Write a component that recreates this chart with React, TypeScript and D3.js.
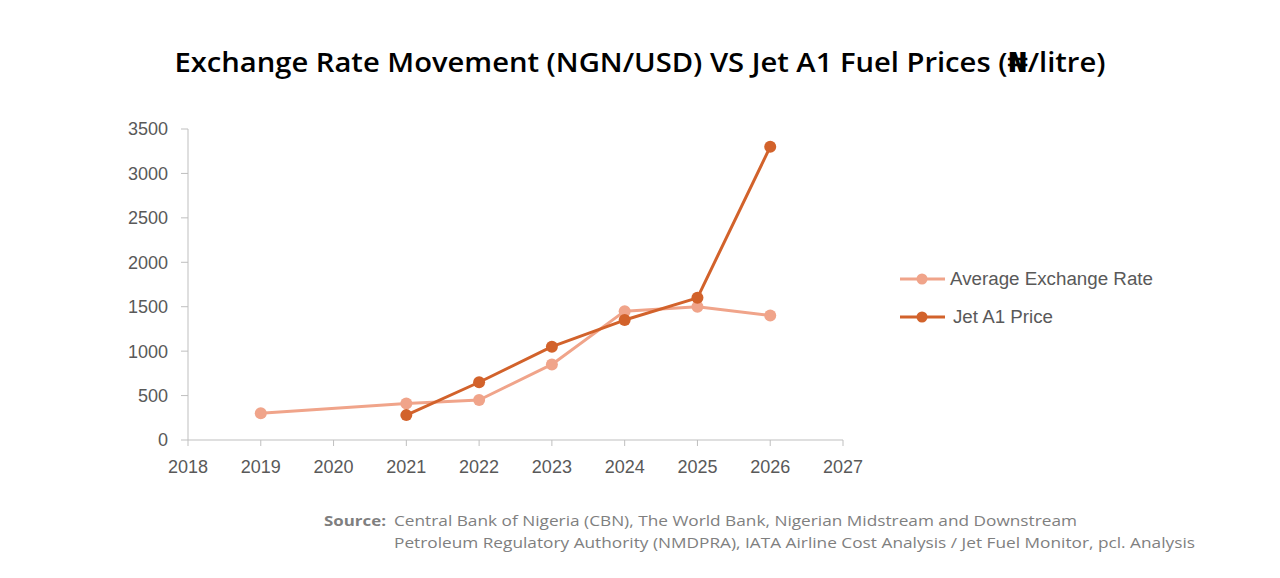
import React from "react";
import * as d3 from "d3";

const years = [2019, 2021, 2022, 2023, 2024, 2025, 2026];
const exchangeRate = [300, 410, 450, 850, 1450, 1500, 1400];
const jetYears = [2021, 2022, 2023, 2024, 2025, 2026];
const jetPrice = [280, 650, 1050, 1350, 1600, 3300];
const xTicks = [2018, 2019, 2020, 2021, 2022, 2023, 2024, 2025, 2026, 2027];
const yTicks = [0, 500, 1000, 1500, 2000, 2500, 3000, 3500];
const seriesNames = ["Average Exchange Rate", "Jet A1 Price"];
const seriesColors = ["#F0A48A", "#D2622B"];

const W = 1280;
const H = 578;
const FONT = "'Open Sans', 'DejaVu Sans', sans-serif";
const TICKFONT = "'Liberation Sans', Arial, sans-serif";

export default function App() {
  const x = d3.scaleLinear().domain([2018, 2027]).range([188, 843]);
  const y = d3.scaleLinear().domain([0, 3500]).range([440, 129]);
  const line = d3
    .line<[number, number]>()
    .x((d) => x(d[0]))
    .y((d) => y(d[1]));

  const exData: [number, number][] = years.map((yr, i) => [yr, exchangeRate[i]]);
  const jetData: [number, number][] = jetYears.map((yr, i) => [yr, jetPrice[i]]);
  const series = [exData, jetData];
  const legendWidths = [203, 100];

  return (
    <svg
      width={W}
      height={H}
      style={{ position: "absolute", left: 0, top: 0, background: "#fff" }}
    >
      <rect x={0} y={0} width={W} height={H} fill="#fff" />
      <text
        x={640}
        y={72}
        textAnchor="middle"
        fontFamily={FONT}
        fontWeight={600}
        fontSize={27}
        fill="#000"
        textLength={931}
        lengthAdjust="spacingAndGlyphs"
      >
        Exchange Rate Movement (NGN/USD) VS Jet A1 Fuel Prices (₦/litre)
      </text>

      {/* axes */}
      <line x1={188} x2={188} y1={129} y2={440} stroke="#BFBFBF" strokeWidth={1} />
      <line x1={188} x2={843} y1={440} y2={440} stroke="#BFBFBF" strokeWidth={1} />
      {yTicks.map((t) => (
        <g key={"y" + t}>
          <line x1={181} x2={188} y1={y(t)} y2={y(t)} stroke="#BFBFBF" />
          <text
            x={168}
            y={y(t)}
            dy="0.36em"
            textAnchor="end"
            fontFamily={TICKFONT}
            fontSize={18}
            fill="#595959"
          >
            {t}
          </text>
        </g>
      ))}
      {xTicks.map((t) => (
        <g key={"x" + t}>
          <line x1={x(t)} x2={x(t)} y1={440} y2={446} stroke="#BFBFBF" />
          <text
            x={x(t)}
            y={473}
            textAnchor="middle"
            fontFamily={TICKFONT}
            fontSize={18}
            fill="#595959"
          >
            {t}
          </text>
        </g>
      ))}

      {series.map((data, si) => (
        <g key={"s" + si}>
          <path
            d={line(data) || ""}
            fill="none"
            stroke={seriesColors[si]}
            strokeWidth={3}
            strokeLinejoin="round"
          />
          {data.map((d, i) => (
            <circle key={i} cx={x(d[0])} cy={y(d[1])} r={6} fill={seriesColors[si]} />
          ))}
        </g>
      ))}

      {/* legend */}
      {seriesNames.map((name, i) => {
        const ly = 279 + i * 38;
        return (
          <g key={"l" + i}>
            <line x1={900} x2={945} y1={ly} y2={ly} stroke={seriesColors[i]} strokeWidth={3} />
            <circle cx={922} cy={ly} r={5.5} fill={seriesColors[i]} />
            <text
              x={i === 0 ? 950 : 953}
              y={ly}
              dy="0.36em"
              fontFamily={TICKFONT}
              fontSize={18}
              fill="#595959"
              textLength={legendWidths[i]}
              lengthAdjust="spacingAndGlyphs"
            >
              {name}
            </text>
          </g>
        );
      })}

      {/* source */}
      <text
        x={324}
        y={526}
        fontFamily={FONT}
        fontSize={14.5}
        fontWeight={700}
        fill="#7F7F7F"
        textLength={62}
        lengthAdjust="spacingAndGlyphs"
      >
        Source:
      </text>
      <text
        x={394}
        y={526}
        fontFamily={FONT}
        fontSize={14.5}
        fill="#7F7F7F"
        textLength={683}
        lengthAdjust="spacingAndGlyphs"
      >
        Central Bank of Nigeria (CBN), The World Bank, Nigerian Midstream and Downstream
      </text>
      <text
        x={394}
        y={548}
        fontFamily={FONT}
        fontSize={14.5}
        fill="#7F7F7F"
        textLength={801}
        lengthAdjust="spacingAndGlyphs"
      >
        Petroleum Regulatory Authority (NMDPRA), IATA Airline Cost Analysis / Jet Fuel Monitor, pcl. Analysis
      </text>
    </svg>
  );
}
